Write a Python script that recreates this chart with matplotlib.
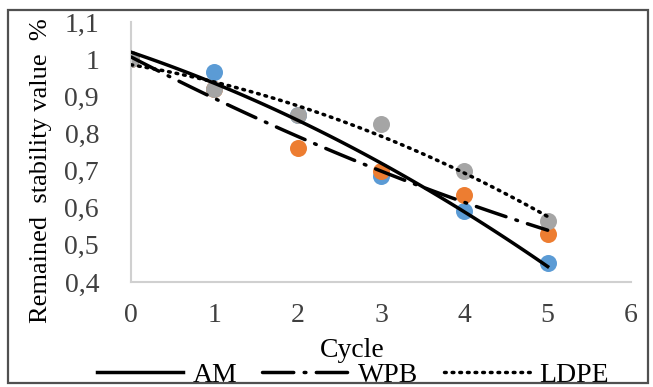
import numpy as np
import matplotlib
matplotlib.use("Agg")
import matplotlib.pyplot as plt
from matplotlib.patches import Rectangle
from matplotlib.ticker import FuncFormatter

plt.rcParams['font.family'] = ['Liberation Serif', 'DejaVu Serif']

cycles = [0, 1, 2, 3, 4, 5]
am = [1.0, 0.965, 0.85, 0.685, 0.59, 0.45]
wpb = [1.0, 0.92, 0.76, 0.70, 0.635, 0.53]
ldpe = [1.0, 0.92, 0.85, 0.825, 0.70, 0.565]
names = ['AM', 'WPB', 'LDPE']
colors = ['#5B9BD5', '#ED7D31', '#A5A5A5']
styles = ['-', (0, (9, 3, 0.5, 3)), (0, (0.5, 1.7))]

fig = plt.figure(figsize=(6.53, 3.87), dpi=100)
ax = fig.add_axes([131 / 653, 1 - 282 / 387, 500 / 653, 260 / 387])

x = np.array(cycles)
xs = np.linspace(0, 5, 100)
for ys, c in zip([am, wpb, ldpe], colors):
    ax.scatter(x, ys, s=150, color=c, zorder=2, linewidths=0)

handles = []
for ys, name, ls in zip([am, wpb, ldpe], names, styles):
    coef = np.polyfit(x, ys, 2)
    h, = ax.plot(xs, np.polyval(coef, xs), color='black', lw=2.5,
                 linestyle=ls, dash_capstyle='round', zorder=3, label=name)
    handles.append(h)

ax.set_xlim(0, 6)
ax.set_ylim(0.4, 1.1)
ax.set_xticks(range(0, 7))
ax.set_yticks(np.arange(0.4, 1.11, 0.1))
ax.yaxis.set_major_formatter(FuncFormatter(lambda v, p: f"{v:.1f}".rstrip('0').rstrip('.').replace('.', ',') if abs(v - 1) > 1e-6 else "1"))
ax.tick_params(length=0, labelsize=20, colors='#404040')
ax.tick_params(axis='y', pad=23)
ax.tick_params(axis='x', pad=15)
for side in ['top', 'right']:
    ax.spines[side].set_visible(False)
for side in ['left', 'bottom']:
    ax.spines[side].set_color('#D0D0D0')
    ax.spines[side].set_linewidth(1.5)

ax.set_ylabel('Remained  stability value  %', fontsize=19)
ax.yaxis.set_label_coords(-0.158, 0.43)
ax.set_xlabel('Cycle', fontsize=20)
ax.xaxis.set_label_coords(0.442, -0.215)

fig.legend(handles=handles, loc='center', bbox_to_anchor=(353 / 653, 1 - 375 / 387),
           ncol=3, frameon=False, fontsize=20, handlelength=3.1,
           columnspacing=0.9, handletextpad=0.35)

fig.patches.append(Rectangle((8 / 653, 1 - 383 / 387), 640 / 653, 373 / 387,
                             transform=fig.transFigure, fill=False,
                             edgecolor='#505050', lw=1.6, zorder=10))

fig.savefig('out.png', dpi=100)
